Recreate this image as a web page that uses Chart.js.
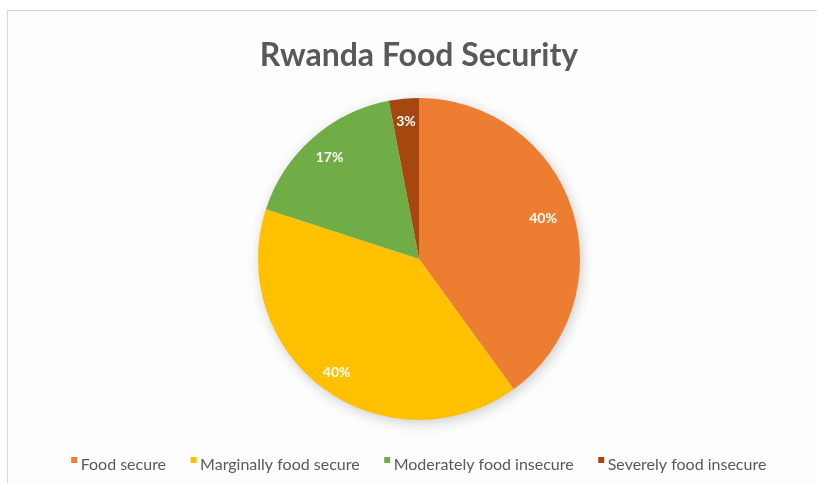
<!DOCTYPE html>
<html>
<head>
<meta charset="utf-8">
<script src="https://cdn.jsdelivr.net/npm/chart.js@4/dist/chart.umd.min.js"></script>
<style>
  html, body { margin: 0; padding: 0; background: #ffffff; overflow: hidden; }
  #wrap { position: relative; width: 817px; height: 483px; }
  #frame { position: absolute; left: 7px; top: 10px; width: 830px; height: 500px; border: 1px solid #d9d9d9; background: #fdfdfd; }
  #chart { position: absolute; left: 0; top: 0; }
</style>
</head>
<body>
<div id="wrap">
  <div id="frame"></div>
  <canvas id="chart" width="817" height="483"></canvas>
</div>
<script>
// Dados do gráfico
const categorias = ["Food secure", "Marginally food secure", "Moderately food insecure", "Severely food insecure"];
const percentagens = [40, 40, 17, 3];
const cores = ["#ED7D31", "#FFC000", "#70AD47", "#A5470E"];
// distância do rótulo ao centro (fração do raio), por fatia
const posRotulo = [0.81, 0.87, 0.84, 0.855];

// Marcador pequeno "elevado" da legenda, como no Excel
function marcador(cor) {
  const c = document.createElement("canvas");
  c.width = 16;
  c.height = 18;
  const g = c.getContext("2d");
  g.fillStyle = cor;
  g.fillRect(7, 1, 6, 6);
  return c;
}

// Sombra suave por baixo da pizza
const sombraPizza = {
  id: "sombraPizza",
  beforeDatasetsDraw(chart) {
    const arc = chart.getDatasetMeta(0).data[0];
    if (!arc) return;
    const ctx = chart.ctx;
    ctx.save();
    ctx.shadowColor = "rgba(0,0,0,0.22)";
    ctx.shadowBlur = 14;
    ctx.shadowOffsetX = 2;
    ctx.shadowOffsetY = 3;
    ctx.fillStyle = "#ffffff";
    ctx.beginPath();
    ctx.arc(arc.x, arc.y, arc.outerRadius - 1, 0, Math.PI * 2);
    ctx.fill();
    ctx.restore();
  }
};

// Rótulos de percentagem dentro das fatias
const rotulos = {
  id: "rotulos",
  afterDatasetsDraw(chart) {
    const ctx = chart.ctx;
    ctx.save();
    ctx.font = "bold 14px Lato";
    ctx.fillStyle = "#ffffff";
    ctx.textAlign = "center";
    ctx.textBaseline = "middle";
    chart.getDatasetMeta(0).data.forEach((arc, i) => {
      const meio = (arc.startAngle + arc.endAngle) / 2;
      const r = arc.outerRadius * posRotulo[i];
      ctx.fillText(percentagens[i] + "%", arc.x + Math.cos(meio) * r, arc.y + Math.sin(meio) * r);
    });
    ctx.restore();
  }
};

const grafico = document.getElementById("chart");
new Chart(grafico, {
  type: "pie",
  data: {
    labels: categorias,
    datasets: [{
      data: percentagens,
      backgroundColor: cores,
      borderWidth: 0
    }]
  },
  options: {
    responsive: false,
    animation: false,
    events: [],
    layout: { padding: { top: 0, bottom: 0, left: 21, right: 0 } },
    plugins: {
      tooltip: { enabled: false },
      title: {
        display: true,
        text: "Rwanda Food Security",
        color: "#595959",
        font: { family: "Lato", size: 32, weight: "bold" },
        padding: { top: 36.8, bottom: 22.8 }
      },
      legend: {
        position: "bottom",
        title: { display: true, text: "", font: { size: 10 }, padding: 0 },
        labels: {
          color: "#595959",
          font: { family: "Lato", size: 16 },
          padding: 25,
          usePointStyle: true,
          pointStyleWidth: 1,
          generateLabels(chart) {
            return categorias.map((nome, i) => ({
              text: nome,
              fillStyle: cores[i],
              strokeStyle: cores[i],
              lineWidth: 0,
              fontColor: "#595959",
              pointStyle: marcador(cores[i]),
              hidden: false,
              index: i
            }));
          }
        }
      }
    }
  },
  plugins: [sombraPizza, rotulos]
});
</script>
</body>
</html>
